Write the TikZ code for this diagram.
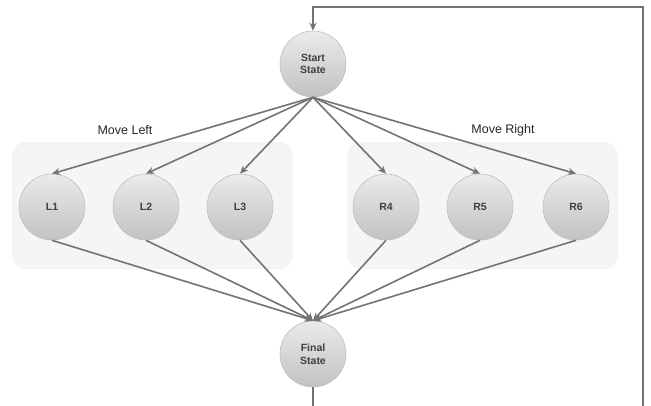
\documentclass[tikz,border=0pt]{standalone}
\usepackage{fontspec}
\setmainfont{Liberation Sans}
\usetikzlibrary{arrows.meta,calc}
\pgfdeclareverticalshading{boxshade}{100bp}{color(0bp)=(black!22); color(16bp)=(black!16); color(26bp)=(black!4); color(70bp)=(black!4); color(100bp)=(black!9)}
\tikzset{
  st/.style={circle, minimum size=66pt, inner sep=0pt, draw=black!25, line width=0.6pt,
    top color=black!8, bottom color=black!24, text=black!75,
    font=\fontsize{10.5}{12.5}\selectfont\bfseries, align=center},
  grp/.style={rounded corners=14pt, shading=boxshade, draw=none},
  conn/.style={draw=black!55, line width=1.6pt, -{Stealth[length=8pt,width=7pt,inset=2.5pt]}},
  loopline/.style={draw=black!55, line width=1.4pt, -{Stealth[length=8pt,width=7pt,inset=2.5pt]}},
  lbl/.style={font=\fontsize{12.5}{14}\selectfont, text=black!85}
}
\begin{document}
\begin{tikzpicture}[x=1pt,y=-1pt]
\useasboundingbox (0,0) rectangle (651,405);
% group boxes
\path[grp] (12,142) rectangle (293,269);
\path[grp] (347,142) rectangle (618,269);
\node[lbl] (ml) at (125,130) {Move Left};
\node[lbl] (mr) at (503,130) {Move Right};
% states
\node[st] (start) at (313,64) {Start\\State};
\node[st] (final) at (313,354) {Final\\State};
\node[st] (l1) at (52,207) {L1};
\node[st] (l2) at (146,207) {L2};
\node[st] (l3) at (240,207) {L3};
\node[st] (r4) at (386,207) {R4};
\node[st] (r5) at (480,207) {R5};
\node[st] (r6) at (576,207) {R6};
% connectors
\foreach \n in {l1,l2,l3,r4,r5,r6}{
  \draw[conn] (start.south) -- (\n.north);
  \draw[conn] (\n.south) -- (final.north);
}
% loop back
\coordinate (lb) at (313,430);
\coordinate (rt) at (643,7);
\begin{scope}
\clip (0,0) rectangle (651,405);
\draw[loopline] (final.south) -- (lb) -| (rt) -| (start.north);
\end{scope}
\end{tikzpicture}
\end{document}
